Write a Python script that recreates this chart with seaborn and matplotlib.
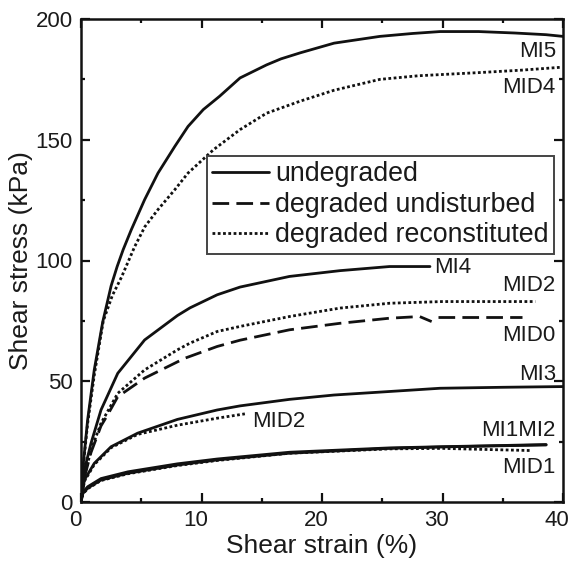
import numpy as np
import pandas as pd
import seaborn as sns
import matplotlib
matplotlib.use("Agg")
import matplotlib.pyplot as plt
import matplotlib.transforms as mtrans
from matplotlib.lines import Line2D
from matplotlib.ticker import MultipleLocator

# ---- stress-strain curves (strain in %, stress in kPa) ----
mi5_strain = [0, 0.14, 0.55, 1.1, 1.8, 2.5, 3.0, 3.5, 4.17, 5.28, 6.39, 7.78, 8.88, 10.15,
              11.5, 13.2, 15.4, 16.6, 18.2, 21.0, 24.8, 27.5, 29.8, 33.0, 36.0, 38.6, 40.0]
mi5_stress = [0, 13.3, 34, 54.7, 74.5, 89.5, 97.5, 104.5, 112.7, 125.2, 136.2, 147.2, 155.5, 162.5,
              168, 175.6, 181, 183.5, 186, 190, 192.8, 194, 194.8, 194.8, 194.2, 193.5, 192.8]

mid4_strain = [0, 0.14, 0.55, 1.1, 1.85, 2.6, 3.35, 4.46, 5.3, 6.39, 7.78, 8.88, 11.0,
               13.2, 15.4, 18.2, 21.0, 24.8, 28.0, 33.0, 36.5, 39.8]
mid4_stress = [0, 12.5, 32.5, 52.5, 75, 85.5, 93, 105.8, 114, 121.1, 129.3, 136.2, 145.9,
               154.2, 161, 166, 170.5, 175, 176.5, 177.8, 178.8, 180]

mi4_strain = [0, 0.28, 0.83, 1.66, 3.05, 5.28, 8.0, 9.05, 11.3, 13.2, 17.3, 21.5, 25.6, 28.96]
mi4_stress = [0, 13.3, 24.3, 38.1, 53.3, 67.1, 77.2, 80.4, 85.8, 89, 93.4, 95.8, 97.5, 97.5]

mid2a_strain = [0, 0.3, 0.83, 1.66, 3.05, 5.28, 8.0, 9.05, 11.3, 13.2, 17.3, 21.5, 25.6,
                30, 34, 37.7]
mid2a_stress = [0, 11, 21.5, 32.6, 45, 54.7, 63, 65.8, 70.6, 72.7, 76.8, 80.3, 82.3,
                83, 83, 83]

# degraded undisturbed curve, drawn in two pieces around the small drop near 29 %
mid0_strain = [0, 0.3, 0.83, 1.66, 2.2, 3.05, 5.28, 8.6, 11.3, 13.2, 17.3, 21.5, 25.6,
               28.1, 29.1]
mid0_stress = [0, 10.5, 20.5, 31.5, 36, 43.6, 51.3, 59.5, 64.4, 67, 71.3, 74, 76.1,
               76.8, 74.7]
mid0_tail_strain = [29.6, 33, 36.6]
mid0_tail_stress = [76.8, 76.8, 76.8]

mi3_strain = [0, 0.28, 1.1, 2.5, 4.7, 8.0, 11.3, 13.2, 17.3, 21, 24.8, 29.8, 35, 40]
mi3_stress = [0, 9.1, 16, 22.9, 28.5, 34.2, 38.1, 39.8, 42.5, 44.3, 45.5, 47.1, 47.5, 47.8]

mid2b_strain = [0, 0.28, 1.1, 2.5, 4.7, 8.0, 11.3, 13.6]
mid2b_stress = [0, 8.6, 15.5, 22.5, 28, 31.8, 34.7, 36.5]

mi1_strain = [0, 0.15, 0.55, 1.66, 3.9, 8.0, 11.3, 17.3, 25.6, 30, 35, 38.6]
mi1_stress = [0, 3.5, 5.7, 9.1, 11.9, 15.3, 17.4, 20.2, 22.2, 22.8, 23.3, 23.6]

mi2_strain = [0, 0.15, 0.55, 1.66, 3.9, 8.0, 11.3, 17.3, 25.6, 30, 35, 38.6]
mi2_stress = [0, 4.0, 6.3, 9.7, 12.5, 15.8, 17.8, 20.6, 22.4, 22.9, 23.4, 23.8]

mid1_strain = [0, 0.15, 0.55, 1.66, 3.9, 8.0, 11.3, 17.3, 25.6, 30, 34, 37.4]
mid1_stress = [0, 3.3, 5.5, 8.9, 11.7, 15.1, 17.2, 20.2, 22.0, 22.2, 21.7, 21.3]

# curve labels: text, x, y, horizontal alignment
label_text = ["MI5", "MID4", "MI4", "MID2", "MID0", "MI3", "MID2", "MI1MI2", "MID1"]
label_x = [39.4, 39.4, 29.3, 39.4, 39.4, 39.4, 14.2, 39.4, 39.4]
label_y = [186.5, 171.6, 97.0, 89.6, 68.9, 53.0, 33.3, 29.8, 14.3]
label_ha = ["right", "right", "left", "right", "right", "right", "left", "right", "right"]

legend_labels = ["undegraded", "degraded undisturbed", "degraded reconstituted"]

sns.set_style("ticks")
plt.rcParams["font.family"] = ["Liberation Sans", "DejaVu Sans"]

INK = "#111111"
TXT = "#1a1a1a"
SOLID = "-"
DASH = (0, (6, 2.6))
DOT = (0, (1, 0.9))
LW = 2.0

curves = [
    (mi5_strain, mi5_stress, SOLID),
    (mid4_strain, mid4_stress, DOT),
    (mi4_strain, mi4_stress, SOLID),
    (mid2a_strain, mid2a_stress, DOT),
    (mid0_strain, mid0_stress, DASH),
    (mid0_tail_strain, mid0_tail_stress, DASH),
    (mi3_strain, mi3_stress, SOLID),
    (mid2b_strain, mid2b_stress, DOT),
    (mi1_strain, mi1_stress, SOLID),
    (mi2_strain, mi2_stress, SOLID),
    (mid1_strain, mid1_stress, DOT),
]

fig = plt.figure(figsize=(5.71, 5.61), dpi=100)
ax = fig.add_axes([81 / 571, 1 - 502 / 561, 482 / 571, 483 / 561])

for xs, ys, ls in curves:
    df = pd.DataFrame({"strain": xs, "stress": ys})
    sns.lineplot(data=df, x="strain", y="stress", ax=ax, color=INK, lw=LW,
                 linestyle=ls, estimator=None, sort=False, legend=False)

for t, x, y, ha in zip(label_text, label_x, label_y, label_ha):
    ax.text(x, y, t, ha=ha, va="center", fontsize=16, color=TXT)

ax.set_xlim(0, 40)
ax.set_ylim(0, 200)
ax.xaxis.set_major_locator(MultipleLocator(10))
ax.xaxis.set_minor_locator(MultipleLocator(5))
ax.yaxis.set_major_locator(MultipleLocator(50))
ax.yaxis.set_minor_locator(MultipleLocator(25))
ax.tick_params(which="both", direction="in", top=True, right=True,
               width=1.6, color=INK, labelsize=16, labelcolor=TXT)
ax.tick_params(which="major", length=6.5, pad=6)
ax.tick_params(which="minor", length=3.2)
for sp in ax.spines.values():
    sp.set_linewidth(1.8)
    sp.set_color(INK)

# x tick labels sit slightly left of their ticks
shift = mtrans.ScaledTranslation(-6 / 100, 0, fig.dpi_scale_trans)
for lab in ax.get_xticklabels():
    lab.set_transform(lab.get_transform() + shift)

ax.set_xlabel("Shear strain (%)", fontsize=19, color=TXT, labelpad=2)
ax.set_ylabel("Shear stress (kPa)", fontsize=19, color=TXT, labelpad=2)

handles = [Line2D([], [], color=INK, lw=LW, linestyle=SOLID),
           Line2D([], [], color=INK, lw=LW, linestyle=DASH),
           Line2D([], [], color=INK, lw=LW, linestyle=DOT)]
leg = ax.legend(handles, legend_labels, loc="upper left",
                bbox_to_anchor=((207 - 81) / 482, (502 - 156) / 483),
                borderaxespad=0, fontsize=19.3, frameon=True, fancybox=False,
                handlelength=2.1, handletextpad=0.25, labelspacing=0.17,
                borderpad=0.2, framealpha=1)
leg.get_frame().set_edgecolor("#444444")
leg.get_frame().set_linewidth(1.4)
for txt in leg.get_texts():
    txt.set_color(TXT)

fig.savefig("out.png", dpi=100)
